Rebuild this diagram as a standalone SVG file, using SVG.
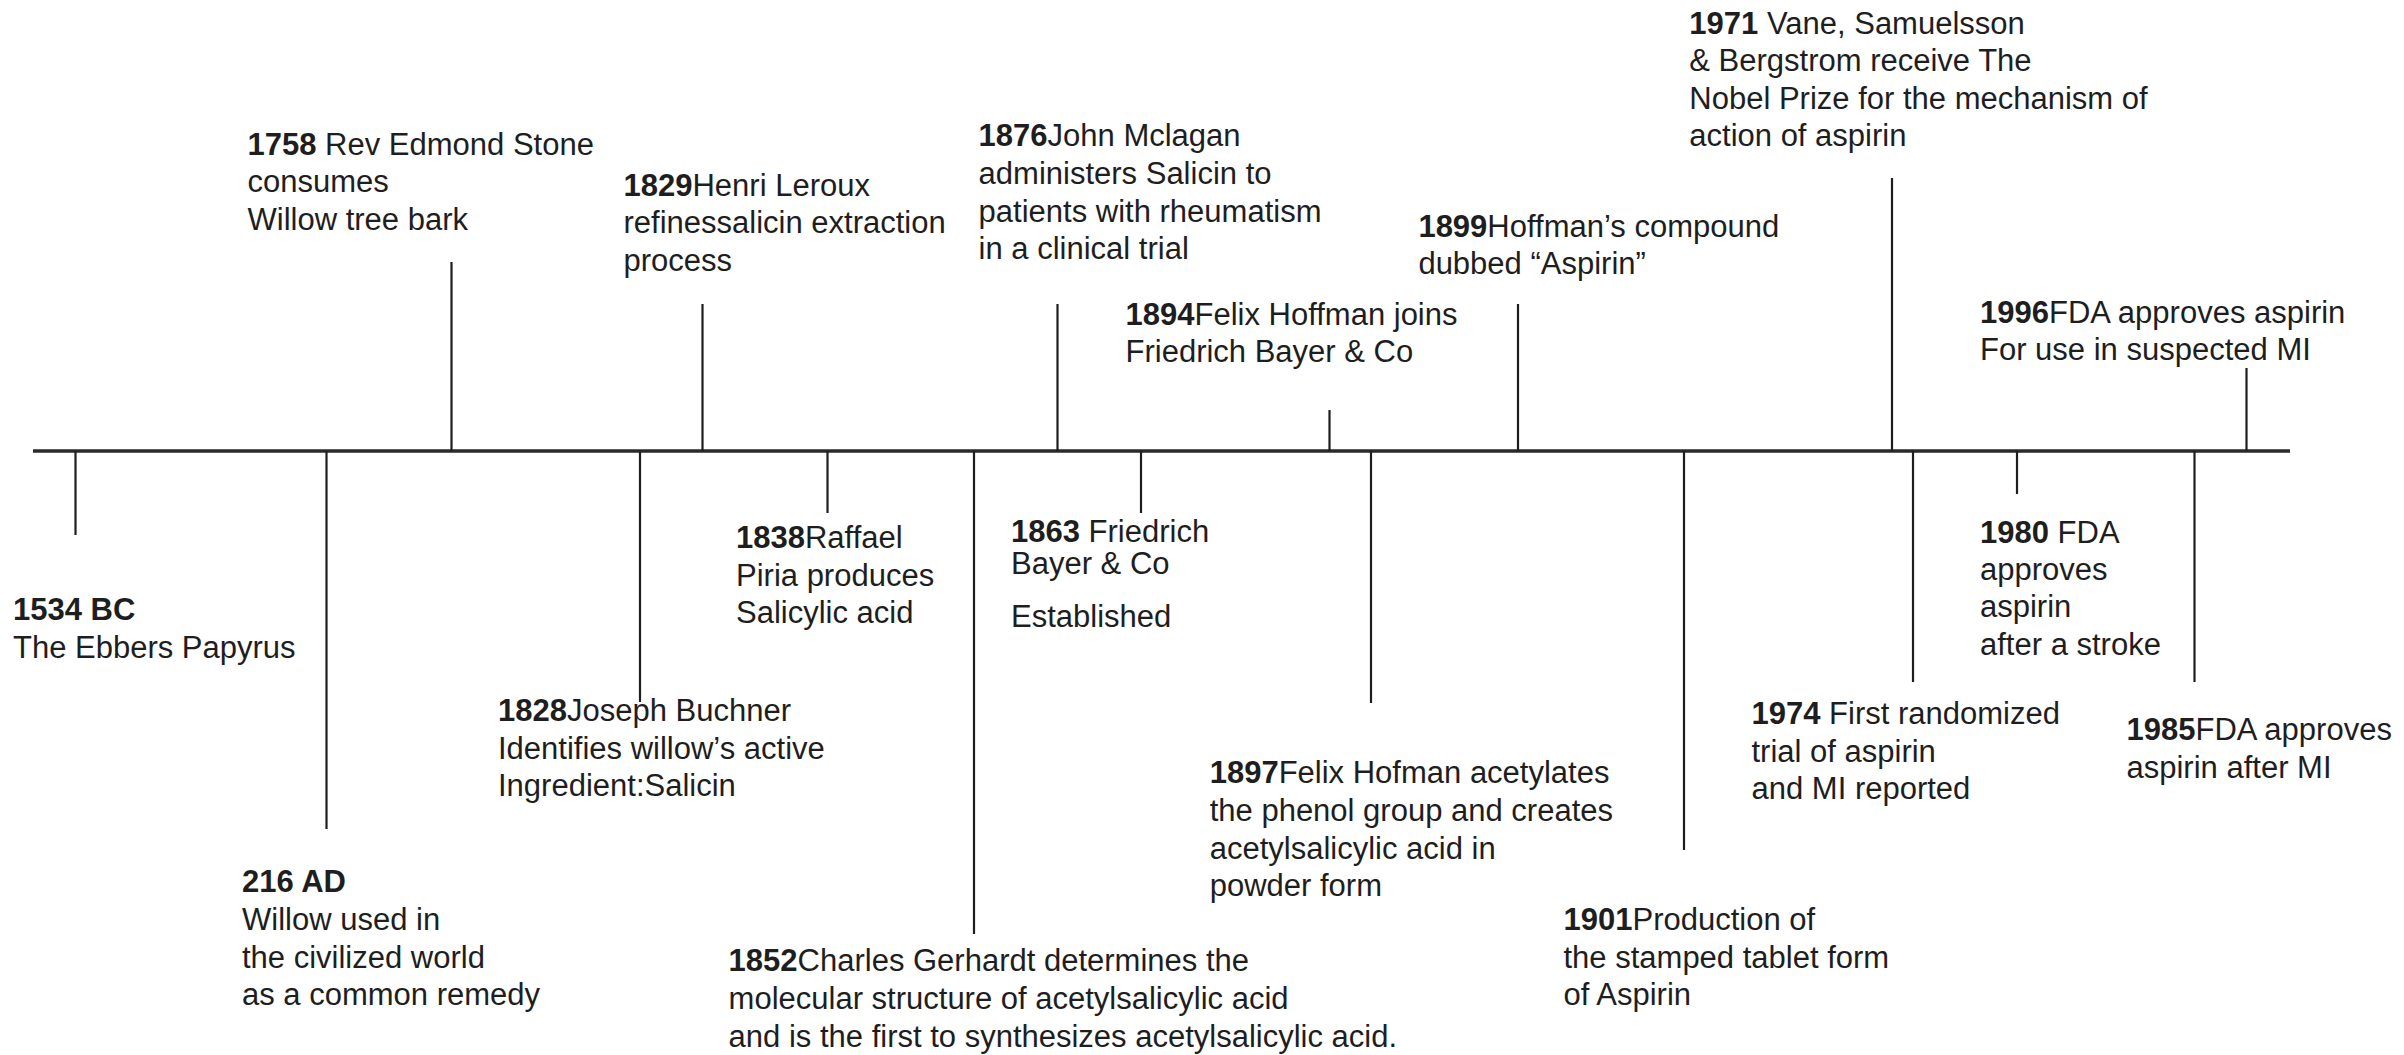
<svg xmlns="http://www.w3.org/2000/svg" width="2404" height="1055" viewBox="0 0 2404 1055">
<style>
text{font-family:"Liberation Sans",Arial,sans-serif;font-size:31px;fill:#1e1e1e}
.b{font-weight:bold}
.axis{stroke:#2a2a2a;stroke-width:3.5;fill:none}
.tick{stroke:#1e1e1e;stroke-width:2.2;fill:none}
</style>
<rect width="2404" height="1055" fill="#ffffff"/>
<g id="connectors">
<line class="axis" x1="33" y1="451" x2="2290" y2="451"/>
<line class="tick" x1="75.5" y1="451" x2="75.5" y2="535"/>
<line class="tick" x1="326.5" y1="451" x2="326.5" y2="829"/>
<line class="tick" x1="451.5" y1="451" x2="451.5" y2="262"/>
<line class="tick" x1="640" y1="451" x2="640" y2="702"/>
<line class="tick" x1="702.5" y1="451" x2="702.5" y2="304"/>
<line class="tick" x1="827.5" y1="451" x2="827.5" y2="513"/>
<line class="tick" x1="974" y1="451" x2="974" y2="934"/>
<line class="tick" x1="1057.5" y1="451" x2="1057.5" y2="304"/>
<line class="tick" x1="1141" y1="451" x2="1141" y2="513"/>
<line class="tick" x1="1329.5" y1="451" x2="1329.5" y2="410"/>
<line class="tick" x1="1371" y1="451" x2="1371" y2="703"/>
<line class="tick" x1="1518" y1="451" x2="1518" y2="304"/>
<line class="tick" x1="1684" y1="451" x2="1684" y2="850"/>
<line class="tick" x1="1892" y1="451" x2="1892" y2="178"/>
<line class="tick" x1="1913" y1="451" x2="1913" y2="682"/>
<line class="tick" x1="2017" y1="451" x2="2017" y2="494"/>
<line class="tick" x1="2194.5" y1="451" x2="2194.5" y2="682"/>
<line class="tick" x1="2246.5" y1="451" x2="2246.5" y2="368"/>
</g>
<g id="e1534bc"><text><tspan class="b" x="13" y="620">1534 BC</tspan><tspan x="13" y="657.5">The Ebbers Papyrus</tspan></text></g>
<g id="e216ad"><text><tspan class="b" x="242" y="892">216 AD</tspan><tspan x="242" y="930">Willow used in</tspan><tspan x="242" y="967.5">the civilized world</tspan><tspan x="242" y="1005">as a common remedy</tspan></text></g>
<g id="e1758"><text><tspan x="247.5" y="154.5"><tspan class="b">1758</tspan> Rev Edmond Stone</tspan><tspan x="247.5" y="192">consumes</tspan><tspan x="247.5" y="229.5">Willow tree bark</tspan></text></g>
<g id="e1828"><text><tspan x="498" y="720.7"><tspan class="b">1828</tspan>Joseph Buchner</tspan><tspan x="498" y="758.5">Identifies willow’s active</tspan><tspan x="498" y="796">Ingredient:Salicin</tspan></text></g>
<g id="e1829"><text><tspan x="623.5" y="195.5"><tspan class="b">1829</tspan>Henri Leroux</tspan><tspan x="623.5" y="233">refinessalicin extraction</tspan><tspan x="623.5" y="270.5">process</tspan></text></g>
<g id="e1838"><text><tspan x="736" y="548.3"><tspan class="b">1838</tspan>Raffael</tspan><tspan x="736" y="585.8">Piria produces</tspan><tspan x="736" y="623.3">Salicylic acid</tspan></text></g>
<g id="e1852"><text><tspan x="728.6" y="971"><tspan class="b">1852</tspan>Charles Gerhardt determines the</tspan><tspan x="728.6" y="1008.7">molecular structure of acetylsalicylic acid</tspan><tspan x="728.6" y="1046.5">and is the first to synthesizes acetylsalicylic acid.</tspan></text></g>
<g id="e1863"><text><tspan x="1011" y="541.7"><tspan class="b">1863</tspan> Friedrich</tspan><tspan x="1011" y="574">Bayer &amp; Co</tspan><tspan x="1011" y="626.7">Established</tspan></text></g>
<g id="e1876"><text><tspan x="978.6" y="146.4"><tspan class="b">1876</tspan>John Mclagan</tspan><tspan x="978.6" y="184">administers Salicin to</tspan><tspan x="978.6" y="221.7">patients with rheumatism</tspan><tspan x="978.6" y="259.3">in a clinical trial</tspan></text></g>
<g id="e1894"><text><tspan x="1125.5" y="324.5"><tspan class="b">1894</tspan>Felix Hoffman joins</tspan><tspan x="1125.5" y="362.3">Friedrich Bayer &amp; Co</tspan></text></g>
<g id="e1897"><text><tspan x="1209.7" y="783.4"><tspan class="b">1897</tspan>Felix Hofman acetylates</tspan><tspan x="1209.7" y="821">the phenol group and creates</tspan><tspan x="1209.7" y="858.6">acetylsalicylic acid in</tspan><tspan x="1209.7" y="896.2">powder form</tspan></text></g>
<g id="e1899"><text><tspan x="1418.4" y="236.6"><tspan class="b">1899</tspan>Hoffman’s compound</tspan><tspan x="1418.4" y="274.4">dubbed “Aspirin”</tspan></text></g>
<g id="e1901"><text><tspan x="1563.5" y="930"><tspan class="b">1901</tspan>Production of</tspan><tspan x="1563.5" y="967.5">the stamped tablet form</tspan><tspan x="1563.5" y="1005">of Aspirin</tspan></text></g>
<g id="e1971"><text><tspan x="1689.3" y="33.8"><tspan class="b">1971</tspan> Vane, Samuelsson</tspan><tspan x="1689.3" y="71.3">&amp; Bergstrom receive The</tspan><tspan x="1689.3" y="108.9">Nobel Prize for the mechanism of</tspan><tspan x="1689.3" y="146.4">action of aspirin</tspan></text></g>
<g id="e1974"><text><tspan x="1751.5" y="724"><tspan class="b">1974</tspan> First randomized</tspan><tspan x="1751.5" y="761.7">trial of aspirin</tspan><tspan x="1751.5" y="799.4">and MI reported</tspan></text></g>
<g id="e1980"><text><tspan x="1980" y="542.6"><tspan class="b">1980</tspan> FDA</tspan><tspan x="1980" y="580">approves</tspan><tspan x="1980" y="617.3">aspirin</tspan><tspan x="1980" y="654.6">after a stroke</tspan></text></g>
<g id="e1985"><text><tspan x="2126.5" y="740"><tspan class="b">1985</tspan>FDA approves</tspan><tspan x="2126.5" y="777.7">aspirin after MI</tspan></text></g>
<g id="e1996"><text><tspan x="1980" y="322.9"><tspan class="b">1996</tspan>FDA approves aspirin</tspan><tspan x="1980" y="360.4">For use in suspected MI</tspan></text></g>
</svg>
